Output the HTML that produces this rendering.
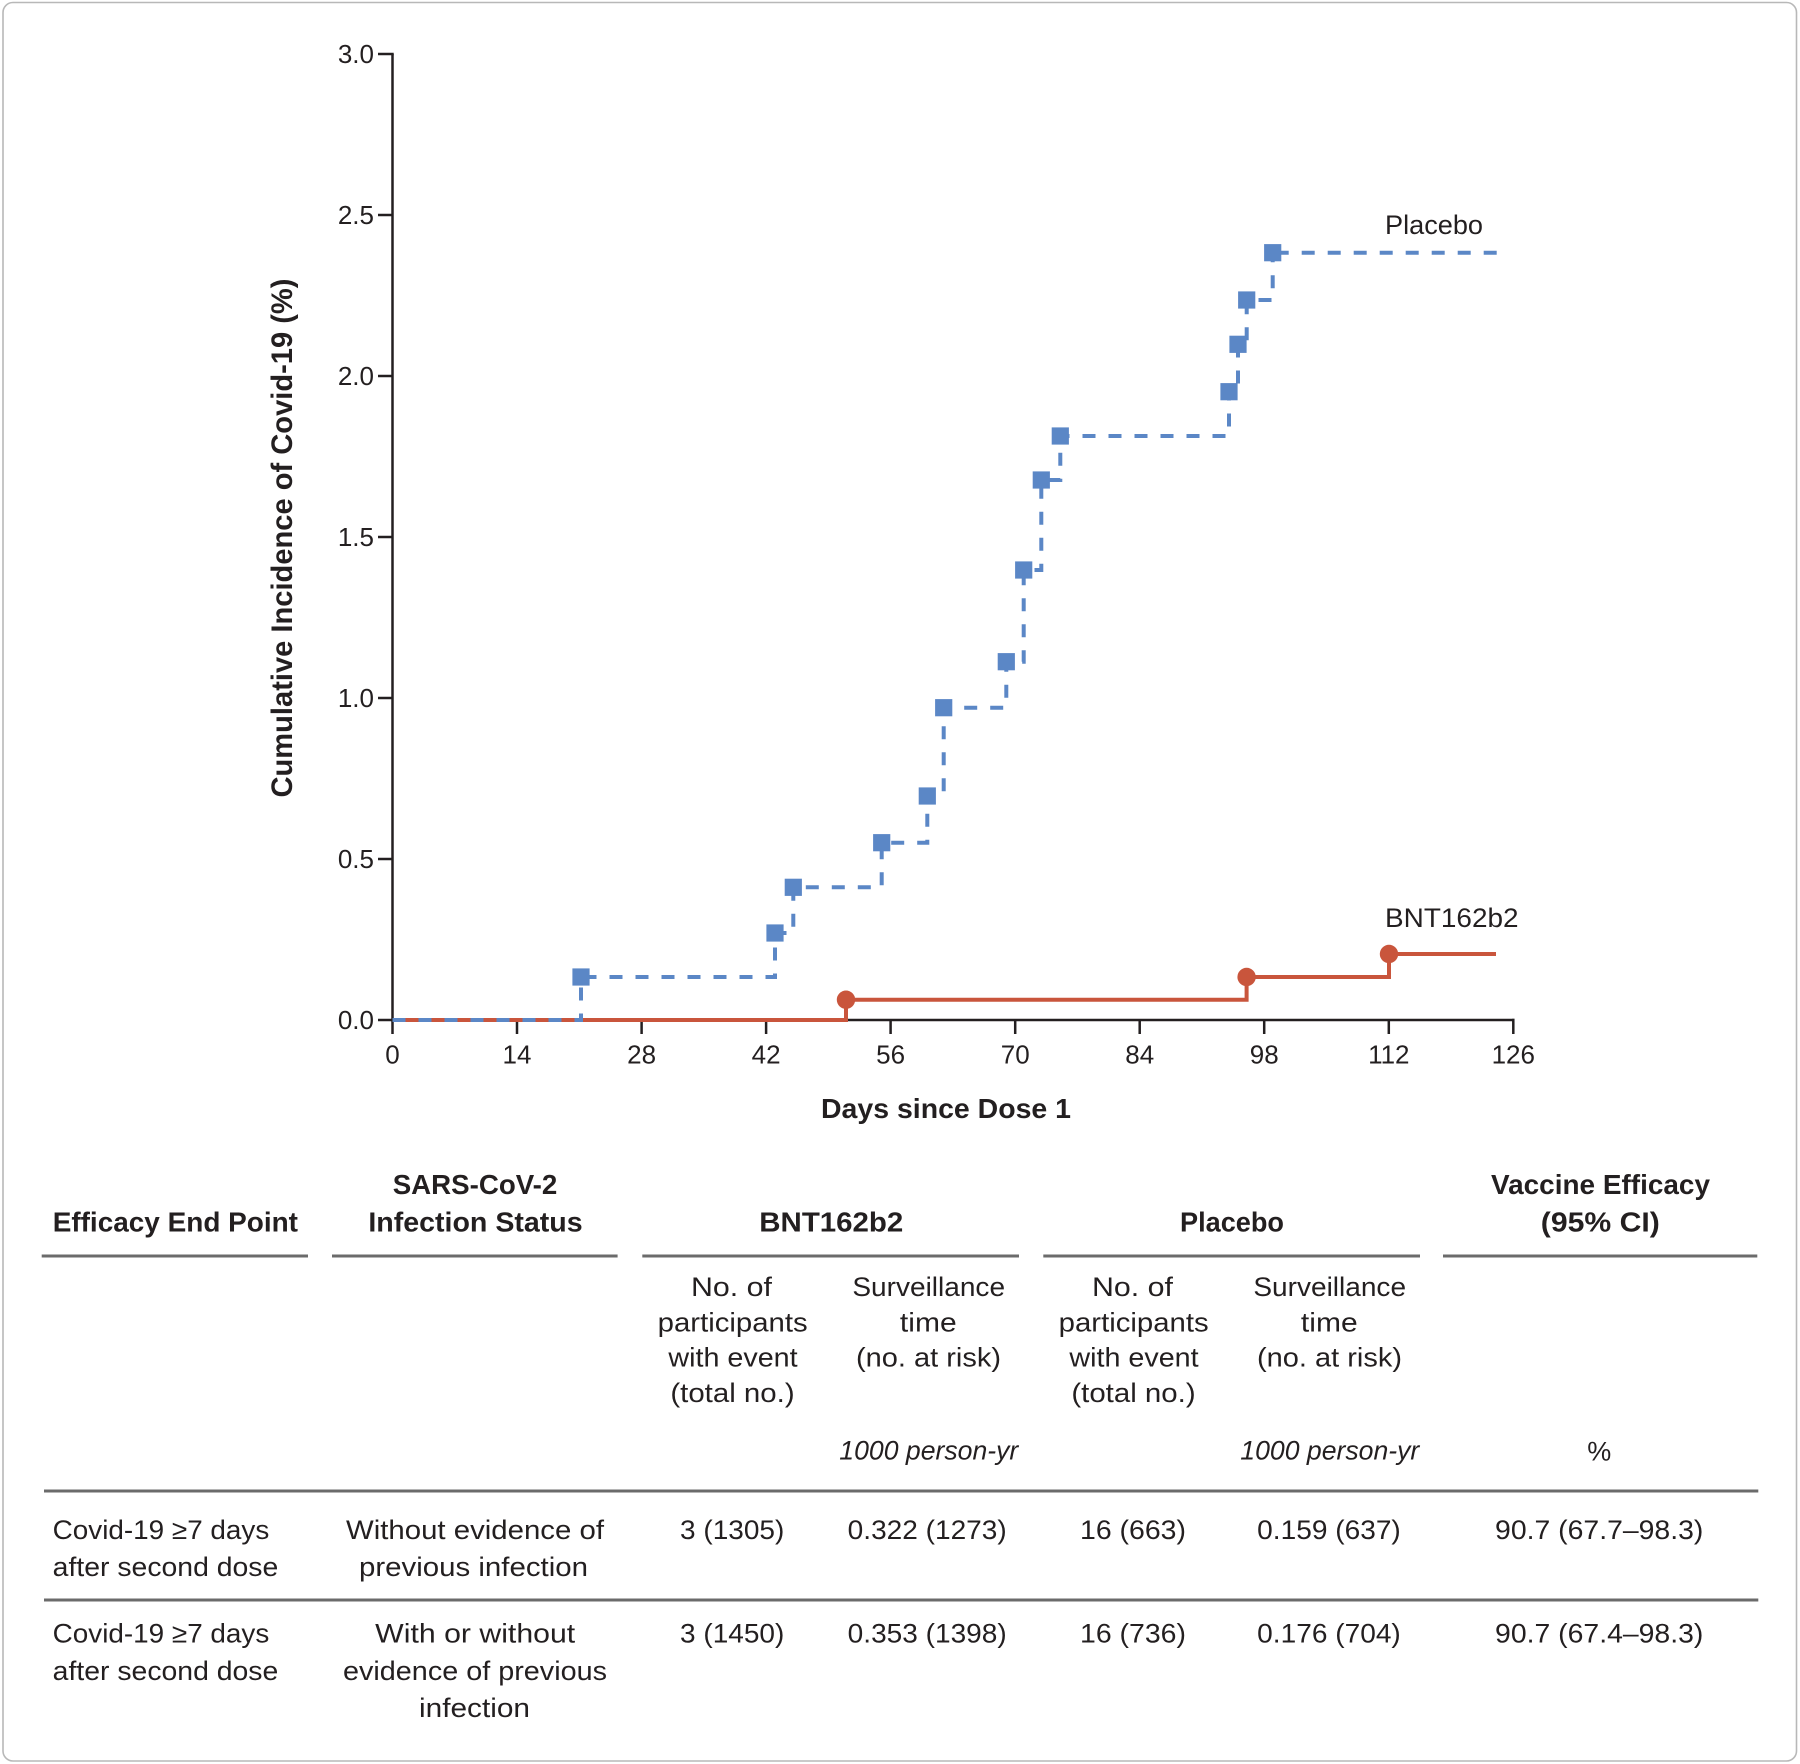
<!DOCTYPE html>
<html>
<head>
<meta charset="utf-8">
<style>
  html, body { margin: 0; padding: 0; background: #ffffff; }
  svg { display: block; }
  text { font-family: "Liberation Sans", "DejaVu Sans", sans-serif; fill: #231f20; }
  .b { font-weight: bold; }
  .tk { font-size: 26px; }
  .t27 { font-size: 27px; }
  .h28 { font-size: 28px; font-weight: bold; }
</style>
</head>
<body>
<svg width="1800" height="1764" viewBox="0 0 1800 1764" xmlns="http://www.w3.org/2000/svg">
  <rect x="0" y="0" width="1800" height="1764" fill="#ffffff"/>
  <!-- outer rounded border -->
  <rect x="3" y="2.5" width="1793.5" height="1758.5" rx="10" ry="10" fill="none" stroke="#b8b8b8" stroke-width="1.6"/>

  <!-- ===== PLOT ===== -->
  <g stroke="#231f20" stroke-width="2.5" fill="none">
    <line x1="392.5" y1="54" x2="392.5" y2="1034"/>
    <line x1="391.3" y1="1020" x2="1514.5" y2="1020"/>
    <line x1="378" y1="54" x2="393.7" y2="54"/>
    <line x1="378" y1="215" x2="392.5" y2="215"/>
    <line x1="378" y1="376" x2="392.5" y2="376"/>
    <line x1="378" y1="537" x2="392.5" y2="537"/>
    <line x1="378" y1="698" x2="392.5" y2="698"/>
    <line x1="378" y1="859" x2="392.5" y2="859"/>
    <line x1="378" y1="1020" x2="392.5" y2="1020"/>
    <line x1="517.0" y1="1020" x2="517.0" y2="1034"/>
    <line x1="641.6" y1="1020" x2="641.6" y2="1034"/>
    <line x1="766.1" y1="1020" x2="766.1" y2="1034"/>
    <line x1="890.6" y1="1020" x2="890.6" y2="1034"/>
    <line x1="1015.2" y1="1020" x2="1015.2" y2="1034"/>
    <line x1="1139.7" y1="1020" x2="1139.7" y2="1034"/>
    <line x1="1264.2" y1="1020" x2="1264.2" y2="1034"/>
    <line x1="1388.8" y1="1020" x2="1388.8" y2="1034"/>
    <line x1="1513.3" y1="1018.8" x2="1513.3" y2="1034"/>
  </g>

  <g class="tk" text-anchor="end">
    <text x="374" y="63.2">3.0</text>
    <text x="374" y="224.2">2.5</text>
    <text x="374" y="385.2">2.0</text>
    <text x="374" y="546.2">1.5</text>
    <text x="374" y="707.2">1.0</text>
    <text x="374" y="868.2">0.5</text>
    <text x="374" y="1029.2">0.0</text>
  </g>
  <g class="tk" text-anchor="middle">
    <text x="392.5" y="1063.5">0</text>
    <text x="517.0" y="1063.5">14</text>
    <text x="641.6" y="1063.5">28</text>
    <text x="766.1" y="1063.5">42</text>
    <text x="890.6" y="1063.5">56</text>
    <text x="1015.2" y="1063.5">70</text>
    <text x="1139.7" y="1063.5">84</text>
    <text x="1264.2" y="1063.5">98</text>
    <text x="1388.8" y="1063.5">112</text>
    <text x="1513.3" y="1063.5">126</text>
  </g>

  <text class="b" font-size="28" x="821" y="1118" textLength="250" lengthAdjust="spacingAndGlyphs">Days since Dose 1</text>
  <text class="b" font-size="30" transform="translate(292,538) rotate(-90)" text-anchor="middle" textLength="519" lengthAdjust="spacingAndGlyphs">Cumulative Incidence of Covid-19 (%)</text>

  <text class="t27" x="1385" y="234" textLength="98" lengthAdjust="spacingAndGlyphs">Placebo</text>
  <text class="t27" x="1385" y="927" textLength="133.6" lengthAdjust="spacingAndGlyphs">BNT162b2</text>

  <!-- BNT162b2 series -->
  <path d="M392.5,1020 H846 V999.7 H1246.6 V977 H1389 V954 H1496" fill="none" stroke="#c9553c" stroke-width="4"/>
  <g fill="#c9553c">
    <circle cx="846" cy="999.7" r="9.2"/>
    <circle cx="1246.6" cy="977" r="9.2"/>
    <circle cx="1389" cy="954" r="9.2"/>
  </g>

  <!-- Placebo series -->
  <path d="M392.5,1020 H581 V977 H775 V933 H793.3 V887.3 H881.7 V842.7 H927.3 V796 H943.7 V707.7 H1006.3 V661.7 H1023.7 V570 H1041.3 V480 H1060.3 V436 H1229 V391.7 H1238 V344.3 H1246.7 V300 H1272.7 V252.7"
        fill="none" stroke="#5b87c6" stroke-width="4" stroke-dasharray="13 13"/>
  <path d="M1496.7,252.7 H1278" fill="none" stroke="#5b87c6" stroke-width="4" stroke-dasharray="13 13"/>
  <g fill="#5b87c6">
    <rect x="572.4" y="968.4" width="17.2" height="17.2"/>
    <rect x="766.4" y="924.4" width="17.2" height="17.2"/>
    <rect x="784.7" y="878.7" width="17.2" height="17.2"/>
    <rect x="873.1" y="834.1" width="17.2" height="17.2"/>
    <rect x="918.7" y="787.4" width="17.2" height="17.2"/>
    <rect x="935.1" y="699.1" width="17.2" height="17.2"/>
    <rect x="997.7" y="653.1" width="17.2" height="17.2"/>
    <rect x="1015.1" y="561.4" width="17.2" height="17.2"/>
    <rect x="1032.7" y="471.4" width="17.2" height="17.2"/>
    <rect x="1051.7" y="427.4" width="17.2" height="17.2"/>
    <rect x="1220.4" y="383.1" width="17.2" height="17.2"/>
    <rect x="1229.4" y="335.7" width="17.2" height="17.2"/>
    <rect x="1238.1" y="291.4" width="17.2" height="17.2"/>
    <rect x="1264.1" y="244.1" width="17.2" height="17.2"/>
  </g>

  <!-- ===== TABLE ===== -->
  <text class="h28" x="52.7" y="1231.7" textLength="245.3" lengthAdjust="spacingAndGlyphs">Efficacy End Point</text>
  <text class="h28" x="475" y="1194" text-anchor="middle" textLength="164.6" lengthAdjust="spacingAndGlyphs">SARS-CoV-2</text>
  <text class="h28" x="475.5" y="1231.7" text-anchor="middle" textLength="214.3" lengthAdjust="spacingAndGlyphs">Infection Status</text>
  <text class="h28" x="831.3" y="1231.7" text-anchor="middle" textLength="144" lengthAdjust="spacingAndGlyphs">BNT162b2</text>
  <text class="h28" x="1232" y="1231.7" text-anchor="middle" textLength="104" lengthAdjust="spacingAndGlyphs">Placebo</text>
  <text class="h28" x="1600.5" y="1194" text-anchor="middle" textLength="219" lengthAdjust="spacingAndGlyphs">Vaccine Efficacy</text>
  <text class="h28" x="1600.3" y="1231.7" text-anchor="middle" textLength="119" lengthAdjust="spacingAndGlyphs">(95% CI)</text>

  <g stroke="#6b6b6b" stroke-width="3">
    <line x1="41.7" y1="1256" x2="308" y2="1256"/>
    <line x1="332" y1="1256" x2="617.6" y2="1256"/>
    <line x1="642.3" y1="1256" x2="1019" y2="1256"/>
    <line x1="1043.3" y1="1256" x2="1420" y2="1256"/>
    <line x1="1443" y1="1256" x2="1757.3" y2="1256"/>
    <line x1="44" y1="1491" x2="1758.3" y2="1491"/>
    <line x1="44" y1="1600" x2="1758.3" y2="1600"/>
  </g>

  <g class="t27" text-anchor="middle">
    <text x="731.5" y="1296" textLength="81" lengthAdjust="spacingAndGlyphs">No. of</text>
    <text x="732.7" y="1331.3" textLength="150" lengthAdjust="spacingAndGlyphs">participants</text>
    <text x="733" y="1366.6" textLength="129.3" lengthAdjust="spacingAndGlyphs">with event</text>
    <text x="732.5" y="1402" textLength="124.3" lengthAdjust="spacingAndGlyphs">(total no.)</text>
    <text x="928.7" y="1296" textLength="152.7" lengthAdjust="spacingAndGlyphs">Surveillance</text>
    <text x="928.3" y="1331.3" textLength="56.7" lengthAdjust="spacingAndGlyphs">time</text>
    <text x="928.5" y="1366.6" textLength="145" lengthAdjust="spacingAndGlyphs">(no. at risk)</text>

    <text x="1132.5" y="1296" textLength="81" lengthAdjust="spacingAndGlyphs">No. of</text>
    <text x="1133.7" y="1331.3" textLength="150" lengthAdjust="spacingAndGlyphs">participants</text>
    <text x="1134" y="1366.6" textLength="129.3" lengthAdjust="spacingAndGlyphs">with event</text>
    <text x="1133.5" y="1402" textLength="124.3" lengthAdjust="spacingAndGlyphs">(total no.)</text>
    <text x="1329.7" y="1296" textLength="152.7" lengthAdjust="spacingAndGlyphs">Surveillance</text>
    <text x="1329.3" y="1331.3" textLength="56.7" lengthAdjust="spacingAndGlyphs">time</text>
    <text x="1329.5" y="1366.6" textLength="145" lengthAdjust="spacingAndGlyphs">(no. at risk)</text>

    <text x="1599.3" y="1460.7">%</text>
  </g>
  <text class="t27" font-style="italic" x="839.3" y="1459.3" textLength="179" lengthAdjust="spacingAndGlyphs">1000 person-yr</text>
  <text class="t27" font-style="italic" x="1240.3" y="1459.3" textLength="179" lengthAdjust="spacingAndGlyphs">1000 person-yr</text>

  <g class="t27">
    <text x="52.7" y="1539" textLength="216.6" lengthAdjust="spacingAndGlyphs">Covid-19 ≥7 days</text>
    <text x="52.7" y="1576" textLength="225.6" lengthAdjust="spacingAndGlyphs">after second dose</text>
  </g>
  <g class="t27" text-anchor="middle">
    <text x="475" y="1539" textLength="258" lengthAdjust="spacingAndGlyphs">Without evidence of</text>
    <text x="473.5" y="1576" textLength="229" lengthAdjust="spacingAndGlyphs">previous infection</text>
    <text x="732.2" y="1539" textLength="104.3" lengthAdjust="spacingAndGlyphs">3 (1305)</text>
    <text x="927.2" y="1539" textLength="159" lengthAdjust="spacingAndGlyphs">0.322 (1273)</text>
    <text x="1133" y="1539" textLength="106" lengthAdjust="spacingAndGlyphs">16 (663)</text>
    <text x="1329" y="1539" textLength="143.6" lengthAdjust="spacingAndGlyphs">0.159 (637)</text>
    <text x="1599.2" y="1539" textLength="208.3" lengthAdjust="spacingAndGlyphs">90.7 (67.7–98.3)</text>
  </g>

  <g class="t27">
    <text x="52.7" y="1642.7" textLength="216.6" lengthAdjust="spacingAndGlyphs">Covid-19 ≥7 days</text>
    <text x="52.7" y="1680" textLength="225.6" lengthAdjust="spacingAndGlyphs">after second dose</text>
  </g>
  <g class="t27" text-anchor="middle">
    <text x="475.2" y="1642.7" textLength="200" lengthAdjust="spacingAndGlyphs">With or without</text>
    <text x="475" y="1680" textLength="264" lengthAdjust="spacingAndGlyphs">evidence of previous</text>
    <text x="474.5" y="1717" textLength="111" lengthAdjust="spacingAndGlyphs">infection</text>
    <text x="732.2" y="1642.7" textLength="104.3" lengthAdjust="spacingAndGlyphs">3 (1450)</text>
    <text x="927.2" y="1642.7" textLength="159" lengthAdjust="spacingAndGlyphs">0.353 (1398)</text>
    <text x="1133" y="1642.7" textLength="106" lengthAdjust="spacingAndGlyphs">16 (736)</text>
    <text x="1329" y="1642.7" textLength="143.6" lengthAdjust="spacingAndGlyphs">0.176 (704)</text>
    <text x="1599.2" y="1642.7" textLength="208.3" lengthAdjust="spacingAndGlyphs">90.7 (67.4–98.3)</text>
  </g>
</svg>
</body>
</html>
